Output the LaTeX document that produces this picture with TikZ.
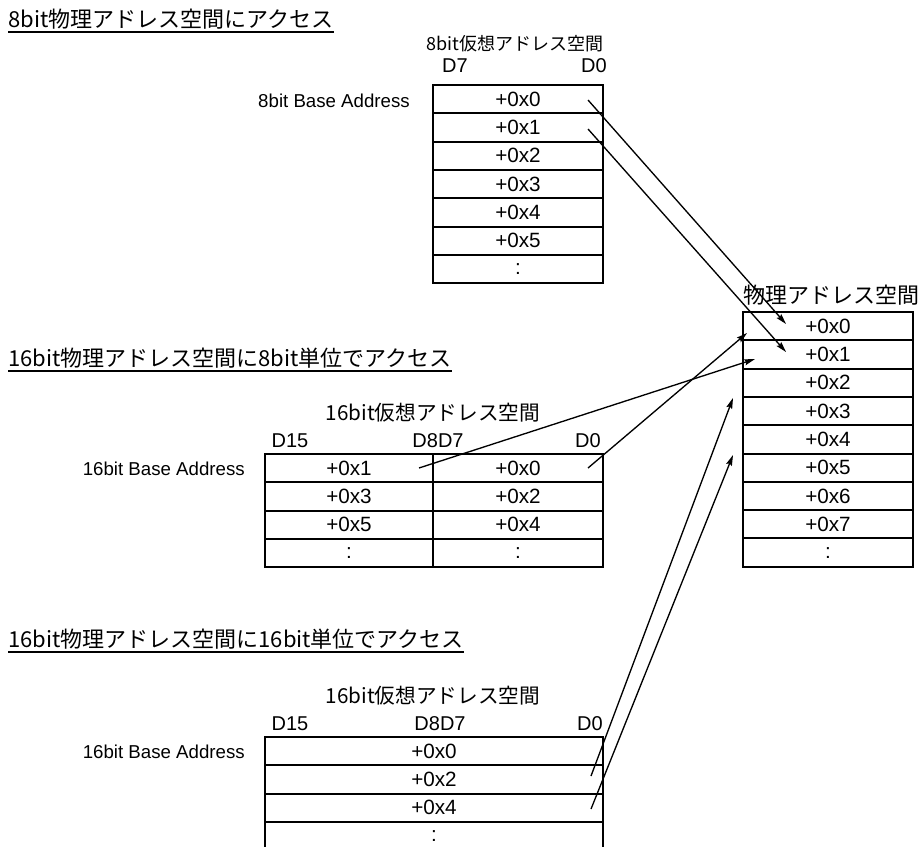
\documentclass[tikz,border=0pt]{standalone}
\usepackage{fontspec}
\setmainfont{Liberation Sans}
\newfontfamily\jp{Noto Sans CJK JP}
\usetikzlibrary{arrows.meta,calc}
\tikzset{
  cellbase/.style={draw, line width=1.5pt, inner sep=0pt, outer sep=0pt,
    minimum height=21.225pt, font=\fontsize{15.5}{17}\selectfont},
  cellA/.style={cellbase, minimum width=127.5pt},
  cellL/.style={cellbase, minimum width=126pt},
  cellW/.style={cellbase, minimum width=253.5pt},
  heading/.style={anchor=base west, inner sep=0pt, font=\jp\fontsize{16.5}{18}\selectfont},
  ulinestyle/.style={line width=1.1pt},
  boxlabel/.style={anchor=base, inner sep=0pt},
  bitlabel/.style={anchor=base, inner sep=0pt, font=\fontsize{15}{17}\selectfont},
  baselabel/.style={anchor=base east, inner sep=0pt, font=\fontsize{14}{16}\selectfont},
  arr/.style={line width=1pt, -{Stealth[length=8pt,width=4.5pt,inset=1.2pt]}}
}
\begin{document}
\begin{tikzpicture}[x=0.75pt,y=-0.75pt]
\clip (0,0) rectangle (919,846);
\fill[white] (0,0) rectangle (919,846);

% headings
\node[heading] (h1) at (8,27) {8bit物理アドレス空間にアクセス};
\draw[ulinestyle] ($(h1.base west)+(0,5)$) -- ($(h1.base east)+(0,5)$);
\node[heading] (h2) at (8,366) {16bit物理アドレス空間に8bit単位でアクセス};
\draw[ulinestyle] ($(h2.base west)+(0,5)$) -- ($(h2.base east)+(0,5)$);
\node[heading] (h3) at (8,647) {16bit物理アドレス空間に16bit単位でアクセス};
\draw[ulinestyle] ($(h3.base west)+(0,5)$) -- ($(h3.base east)+(0,5)$);

% top 8bit virtual space
\node[boxlabel, font=\jp\fontsize{13.5}{15}\selectfont] (la) at (515,50) {8bit仮想アドレス空間};
\node[bitlabel] (da7) at (455,72) {D7};
\node[bitlabel] (da0) at (594,72) {D0};
\node[baselabel] (ba) at (410,107) {8bit Base Address};
\foreach \t [count=\i from 0] in {+0x0,+0x1,+0x2,+0x3,+0x4,+0x5,:}
  \node[cellA] (a\i) at (518,{85+28.3*(\i+0.5)}) {\t};

% physical space
\node[boxlabel, font=\jp\fontsize{16.5}{18}\selectfont] (lp) at (831,303) {物理アドレス空間};
\foreach \t [count=\i from 0] in {+0x0,+0x1,+0x2,+0x3,+0x4,+0x5,+0x6,+0x7,:}
  \node[cellA] (p\i) at (828,{312+28.3*(\i+0.5)}) {\t};

% middle 16bit virtual space (8bit access)
\node[boxlabel, font=\jp\fontsize{15.5}{17}\selectfont] (lm) at (433,420) {16bit仮想アドレス空間};
\node[bitlabel] (dm15) at (290,447) {D15};
\node[bitlabel] (dm87) at (438,447) {D8D7};
\node[bitlabel] (dm0) at (588,447) {D0};
\node[baselabel] (bm) at (245,475) {16bit Base Address};
\foreach \l/\r [count=\i from 0] in {+0x1/+0x0,+0x3/+0x2,+0x5/+0x4,:/:}{
  \node[cellL] (ml\i) at (349,{454+28.3*(\i+0.5)}) {\l};
  \node[cellA] (mr\i) at (518,{454+28.3*(\i+0.5)}) {\r};
}

% bottom 16bit virtual space (16bit access)
\node[boxlabel, font=\jp\fontsize{15.5}{17}\selectfont] (lb) at (433,703) {16bit仮想アドレス空間};
\node[bitlabel] (db15) at (290,730) {D15};
\node[bitlabel] (db87) at (440,730) {D8D7};
\node[bitlabel] (db0) at (590,730) {D0};
\node[baselabel] (bb) at (245,758) {16bit Base Address};
\foreach \t [count=\i from 0] in {+0x0,+0x2,+0x4,:}
  \node[cellW] (b\i) at (434,{737+28.3*(\i+0.5)}) {\t};

% arrow end points
\coordinate (s1) at (588,100);
\coordinate (e1) at (786,324);
\coordinate (s2) at (588,129);
\coordinate (e2) at (786,352);
\coordinate (s3) at (588,468);
\coordinate (e3) at (747,333);
\coordinate (s4) at (419,468);
\coordinate (e4) at (755,359);
\coordinate (s5) at (591,776);
\coordinate (e5) at (733,398);
\coordinate (s6) at (591,809);
\coordinate (e6) at (733,455);

\draw[arr] (s1) -- (e1);
\draw[arr] (s2) -- (e2);
\draw[arr] (s3) -- (e3);
\draw[arr] (s4) -- (e4);
\draw[arr] (s5) -- (e5);
\draw[arr] (s6) -- (e6);
\end{tikzpicture}
\end{document}
